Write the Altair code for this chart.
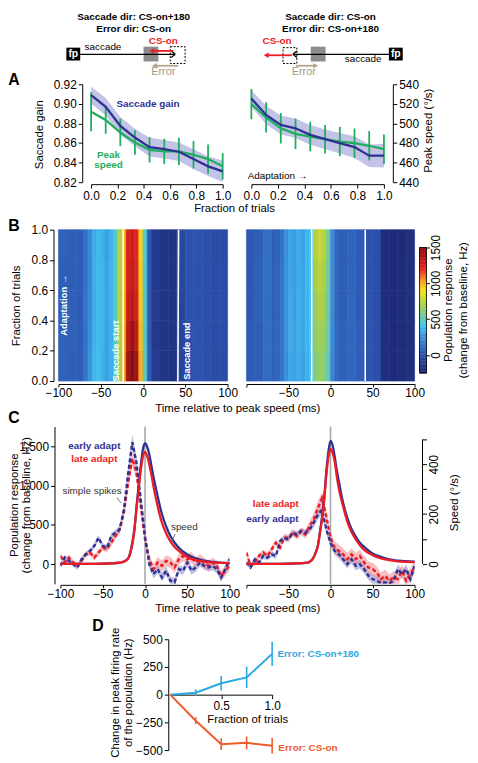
import altair as alt
import numpy as np
import pandas as pd

FONT = "Liberation Sans"
NAVY = "#2e3192"
GREEN = "#1fad5e"
BANDC = "#c2c3e6"
RED = "#ec1c24"
CYAN = "#27aae1"
ORANGE = "#f15a29"
TAN = "#b3a48c"

# ---------------- Panel A data ----------------
A_FRAC = [0.0, 0.111, 0.222, 0.333, 0.444, 0.556, 0.667, 0.778, 0.889, 1.0]
A_L_GAIN = [0.9089, 0.897, 0.8775, 0.8656, 0.8558, 0.8537, 0.8511, 0.8436, 0.8362, 0.8311]
A_L_GAIN_SEM = [0.0085, 0.009, 0.009, 0.009, 0.0095, 0.0095, 0.0095, 0.010, 0.010, 0.011]
A_L_SPEED = [511.9, 503.5, 490.7, 480.5, 473.1, 471.4, 471.4, 468.0, 463.6, 456.2]
A_L_SPEED_SEM = [20, 14, 14, 12.5, 13, 13, 14, 14, 15, 13.5]
A_R_GAIN = [0.9054, 0.8886, 0.8785, 0.8750, 0.8683, 0.8639, 0.8598, 0.8558, 0.8471, 0.8471]
A_R_GAIN_SEM = [0.0085, 0.0095, 0.0095, 0.010, 0.010, 0.010, 0.0105, 0.011, 0.0115, 0.012]
A_R_SPEED = [519.7, 506.2, 495.0, 489.3, 486.6, 483.9, 481.5, 479.8, 477.2, 473.7]
A_R_SPEED_SEM = [15.5, 15.5, 15.5, 15.5, 15, 14.5, 15, 15, 15, 15]
A_GAIN_TICKS = [0.82, 0.84, 0.86, 0.88, 0.90, 0.92]
A_SPEED_TICKS = [440, 460, 480, 500, 520, 540]
A_X_TICKS = [0.0, 0.2, 0.4, 0.6, 0.8, 1.0]

# ---------------- Panel B data ----------------
HM_EDGES = [-100, -90, -80, -70, -65, -60, -55, -50, -45, -40, -35, -30, -25, -20,
            -15, -10, -5, 0, 5, 10, 20, 30, 40, 50, 60, 70, 80, 90, 100]
HM_FRAC = [0.0, 0.2, 0.4, 0.6, 0.8, 1.0]
HM_LEFT = [
    [70, 60, 60, 150, 260, 360, 390, 350, 300, 340, 460, 700, 1020, 1420, 1560, 1420, 1000, 500, 60, -120, -150, -170, -70, 0, 20, 0, -20, -20],
    [70, 70, 60, 140, 240, 350, 380, 360, 300, 350, 470, 710, 1000, 1340, 1450, 1330, 970, 490, 50, -130, -150, -160, -60, 10, 20, 0, -20, -10],
    [60, 70, 50, 150, 230, 340, 380, 360, 310, 350, 480, 720, 990, 1280, 1350, 1260, 950, 480, 40, -120, -150, -160, -60, 10, 10, 0, -10, -10],
    [60, 60, 60, 140, 220, 340, 370, 360, 310, 360, 480, 730, 980, 1250, 1310, 1230, 940, 470, 40, -130, -150, -160, -50, 10, 10, 0, -20, -10],
    [70, 60, 60, 140, 220, 330, 370, 350, 300, 350, 470, 720, 980, 1240, 1290, 1210, 930, 470, 30, -130, -150, -160, -50, 10, 20, 0, -20, -20],
]
HM_RIGHT = [
    [50, 60, 110, 70, 90, 150, 250, 320, 300, 340, 300, 350, 390, 610, 650, 630, 520, 220, 100, 70, 90, 60, 20, 0, -190, -210, -200, -190],
    [50, 60, 120, 70, 90, 150, 260, 330, 300, 350, 310, 360, 400, 640, 680, 660, 540, 230, 100, 70, 90, 60, 20, 0, -190, -210, -200, -190],
    [40, 70, 120, 60, 80, 150, 260, 330, 290, 350, 310, 360, 400, 660, 710, 690, 550, 230, 90, 60, 90, 50, 20, 0, -200, -210, -200, -180],
    [40, 70, 130, 60, 80, 150, 260, 320, 290, 340, 310, 370, 410, 690, 740, 710, 560, 240, 90, 60, 80, 50, 10, 0, -200, -210, -200, -180],
    [40, 60, 130, 60, 80, 140, 250, 320, 290, 340, 300, 370, 410, 720, 780, 740, 570, 240, 90, 60, 80, 50, 10, 0, -200, -220, -210, -190],
]
HM_LEFT_LINES = {"x0": [-23.5, 41.2], "x1": [-23.5, 42.0]}
HM_RIGHT_LINES = {"x0": [-22.4, 41.3], "x1": [-22.4, 41.3]}
HM_LEFT_ANN = {"t": [-93.8, -32.2, 51.7], "f": [0.50, 0.198, 0.198],
               "s": ["Adaptation \u2192", "Saccade start", "Saccade end"]}
CMAP_STOPS = [-254, 0, 250, 400, 550, 700, 900, 1050, 1200, 1500]
CMAP_COLORS = ["#1c2470", "#2b4fab", "#3a8fdd", "#3fc3f0", "#6ec9a0",
               "#a9d047", "#f4e31e", "#f7941d", "#e52520", "#8a0c0e"]
CB_TICKS = [0, 500, 1000, 1500]

# ---------------- Panel C data ----------------
C_T = list(range(-100, 105, 5))
C_L_EARLY = [-21, 84, 42, 0, -42, 63, 126, 168, 231, 336, 231, 210, 357, 399, 441, 693, 1150, 1550, 1282, 819,
             357, 0, -126, -63, -168, -84, -210, -231, -63, -84, 21, -84, -42, 21, -21, -42, -21, -63, -168, -63, 63]
C_L_LATE = [105, 21, 84, 21, -21, 42, 126, 147, 84, 147, 210, 189, 273, 357, 441, 651, 1029, 1345, 1155, 735,
            315, 63, -63, 21, -21, 42, 21, -42, 63, 105, 63, 84, 21, 63, 21, -21, 21, -21, -147, -84, -21]
C_R_EARLY = [21, -42, 63, 21, 105, 84, 126, 105, 294, 336, 315, 399, 378, 420, 399, 441, 525, 630, 693, 441,
             273, 168, 126, 63, 0, 63, -21, 0, -63, -147, -189, -210, -240, -231, -245, -210, -63, -126, -63, -189, -21]
C_R_LATE = [147, -21, 21, 105, 147, 105, 189, 273, 210, 336, 336, 399, 357, 420, 378, 483, 567, 714, 840, 609,
            336, 210, 168, 126, 63, 126, 63, 105, 21, -42, -63, -105, -189, -147, -210, -168, -189, -84, -210, -126, -42]
C_L_EARLY_SEM = [30, 30, 30, 30, 30, 30, 30, 35, 35, 35, 35, 35, 40, 40, 45, 60, 80, 100, 80, 60, 50,
                 50, 55, 55, 55, 55, 55, 55, 50, 50, 50, 50, 50, 50, 50, 50, 55, 55, 55, 55, 55]
C_L_LATE_SEM = [35, 35, 35, 35, 35, 35, 35, 35, 35, 40, 40, 40, 40, 45, 50, 65, 80, 90, 80, 65, 60,
                60, 65, 70, 70, 70, 70, 70, 70, 70, 70, 70, 65, 65, 65, 65, 65, 65, 65, 65, 65]
C_R_EARLY_SEM = [30, 30, 30, 30, 35, 35, 35, 35, 35, 35, 40, 40, 40, 40, 45, 50, 55, 60, 60, 55, 55,
                 55, 55, 55, 55, 55, 55, 55, 55, 55, 60, 60, 60, 60, 60, 60, 60, 60, 60, 60, 60]
C_R_LATE_SEM = [35, 35, 35, 35, 40, 40, 40, 40, 40, 40, 45, 45, 45, 45, 55, 65, 80, 90, 80, 70, 70,
                75, 80, 80, 80, 80, 80, 80, 80, 80, 80, 80, 80, 80, 80, 80, 80, 80, 80, 80, 80]
SPD_T = [-100, -60, -40, -30, -25, -20, -17.5, -15, -12.5, -10, -7.5, -5, -2.5, 0, 2.5, 5, 7.5, 10,
         12.5, 15, 20, 25, 30, 35, 40, 50, 60, 70, 80, 100]
C_L_SPD_EARLY = [0, 0, 2, 5, 10, 22, 45, 85, 140, 230, 315, 395, 460, 484, 470, 440, 395, 350, 310, 270,
                 200, 150, 112, 85, 65, 38, 22, 13, 8, 3]
C_L_SPD_LATE = [0, 0, 2, 5, 9, 20, 42, 80, 135, 225, 300, 375, 430, 449, 432, 400, 358, 310, 268, 230,
                165, 122, 90, 68, 52, 28, 16, 9, 6, 3]
C_R_SPD_EARLY = [0, 0, 2, 4, 8, 27, 47, 75, 130, 190, 265, 370, 450, 493, 475, 430, 375, 330, 285, 245,
                 185, 140, 110, 85, 68, 42, 28, 18, 13, 9]
C_R_SPD_LATE = [0, 0, 2, 4, 8, 26, 46, 72, 125, 182, 255, 355, 430, 460, 445, 410, 350, 300, 262, 230,
                170, 128, 98, 75, 56, 35, 22, 15, 10, 7]
C_X_TICKS = [-100, -50, 0, 50, 100]

# ---------------- Panel D data ----------------
D_FRAC = [0.0, 0.25, 0.5, 0.75, 1.0]
D_CS180 = [0, 18, 103, 156, 368]
D_CS180_SEM = [0, 30, 65, 97, 110]
D_CSON = [0, -235, -447, -435, -462]
D_CSON_SEM = [0, 30, 53, 58, 70]

# ---------------- Schematic (illustration) ----------------
SCH_TITLES = {"x": [133, 133, 332, 332], "y": [9, 21, 9, 21],
              "s": ["Saccade dir: CS-on+180", "Error dir: CS-on", "Saccade dir: CS-on", "Error dir: CS-on+180"]}
SCH_FILL = {"x0": [143, 312, 65, 391], "x1": [158, 327, 79, 405], "y0": [39, 39, 40, 40], "y1": [54, 54, 53, 53],
            "c": ["#8c8c8c", "#8c8c8c", "black", "black"]}
SCH_DASH = {"x0": [170, 284], "x1": [185, 298], "y0": [39, 40], "y1": [56, 56]}
SCH_SEGS = {
    "x0": [79, 171, 171, 391, 298, 298, 173, 293, 178, 297],
    "y0": [46.7, 43.5, 49.9, 46.7, 43.5, 49.9, 43.3, 47.7, 58.3, 58.3],
    "x1": [175, 175, 175, 294, 294, 294, 153, 269, 155, 315],
    "y1": [46.7, 46.7, 46.7, 46.7, 46.7, 46.7, 43.3, 47.7, 58.3, 58.3],
    "c": ["black"] * 6 + [RED, RED, TAN, TAN],
    "w": [1.3] * 6 + [1.8, 1.8, 1.8, 1.8],
}
SCH_HEADS = {"x": [151.5, 267, 154, 317], "y": [43.3, 47.7, 58.3, 58.3],
             "sh": ["triangle-left", "triangle-left", "triangle-left", "triangle-right"],
             "c": [RED, RED, TAN, TAN]}
SCH_CSON = {"x": [163, 278], "y": [33, 33], "s": ["CS-on", "CS-on"]}
SCH_FP = {"x": [72, 398], "y": [46.5, 46.5], "s": ["fp", "fp"]}
SCH_SACC = {"x": [102, 365], "y": [39, 52], "s": ["saccade", "saccade"]}
SCH_ERR = {"x": [163, 305], "y": [65, 65], "s": ["Error", "Error"]}

ONE = pd.DataFrame({"k": [0]})


def txt(x, y, s, size=10, color="black", bold=False, angle=None, align="center", baseline="middle"):
    props = dict(font=FONT, fontSize=size, color=color, align=align, baseline=baseline)
    if bold:
        props["fontWeight"] = "bold"
    if angle is not None:
        props["angle"] = angle
    return alt.Chart(ONE).mark_text(**props).encode(x=alt.value(x), y=alt.value(y), text=alt.value(s))


def seg(x1, y1, x2, y2, color="black", width=1.0):
    return alt.Chart(ONE).mark_rule(color=color, strokeWidth=width).encode(
        x=alt.value(x1), y=alt.value(y1), x2=alt.value(x2), y2=alt.value(y2))


def spacer(w, h):
    return alt.Chart(ONE).mark_rect(opacity=0).encode(
        x=alt.value(0), x2=alt.value(w), y=alt.value(0), y2=alt.value(h)).properties(width=w, height=h)


# ---------------- Schematic chart ----------------
sx = alt.Scale(domain=[6, 468], nice=False, zero=False)
sy = alt.Scale(domain=[4, 77], nice=False, zero=False, reverse=True)


def SX(f):
    return alt.X(f, type="quantitative", scale=sx, axis=None)


def SY(f):
    return alt.Y(f, type="quantitative", scale=sy, axis=None)


def sch_text(d, color, size, bold):
    props = dict(font=FONT, fontSize=size, color=color, align="center", baseline="middle")
    if bold:
        props["fontWeight"] = "bold"
    return alt.Chart(pd.DataFrame(d)).mark_text(**props).encode(x=SX("x"), y=SY("y"), text="s:N")


schem = alt.layer(
    alt.Chart(pd.DataFrame(SCH_FILL)).mark_rect().encode(
        x=SX("x0"), x2="x1", y=SY("y0"), y2="y1", color=alt.Color("c:N", scale=None)),
    alt.Chart(pd.DataFrame(SCH_DASH)).mark_rect(filled=False, stroke="black", strokeWidth=1,
                                                strokeDash=[2, 1.5]).encode(
        x=SX("x0"), x2="x1", y=SY("y0"), y2="y1"),
    alt.Chart(pd.DataFrame(SCH_SEGS)).mark_rule().encode(
        x=SX("x0"), x2="x1", y=SY("y0"), y2="y1", color=alt.Color("c:N", scale=None),
        strokeWidth=alt.StrokeWidth("w:Q", scale=None)),
    alt.Chart(pd.DataFrame(SCH_HEADS)).mark_point(filled=True, opacity=1, size=32).encode(
        x=SX("x"), y=SY("y"), shape=alt.Shape("sh:N", scale=None), color=alt.Color("c:N", scale=None)),
    sch_text(SCH_TITLES, "black", 10, True),
    sch_text(SCH_CSON, RED, 10, True),
    sch_text(SCH_FP, "white", 10.5, True),
    sch_text(SCH_SACC, "black", 10, False),
    sch_text(SCH_ERR, "#a89a86", 11, False),
).properties(width=462, height=73)


# ---------------- Panel A ----------------
def panelA(gain, gsem, spd, ssem, left):
    df = pd.DataFrame({"f": A_FRAC, "g": gain, "s": spd})
    df["glo"] = df["g"] - np.array(gsem)
    df["ghi"] = df["g"] + np.array(gsem)
    df["slo"] = df["s"] - np.array(ssem)
    df["shi"] = df["s"] + np.array(ssem)
    xa = alt.Axis(values=A_X_TICKS, format=".1f", title=None, offset=2, orient="bottom")
    xs = alt.Scale(domain=[0, 1], nice=False, zero=False)
    gs = alt.Scale(domain=[0.82, 0.92], nice=False, zero=False)
    ss = alt.Scale(domain=[440, 540], nice=False, zero=False)
    gax = alt.Axis(values=A_GAIN_TICKS, format=".2f", title=None, offset=9, orient="left") if left else None
    sax = None if left else alt.Axis(values=A_SPEED_TICKS, title=None, offset=9, orient="right")
    X = alt.X("f:Q", scale=xs, axis=xa)
    base = alt.Chart(df)
    layers = [
        base.mark_area(color=BANDC).encode(x=X, y=alt.Y("glo:Q", scale=gs, axis=gax), y2="ghi"),
        base.mark_rule(color=GREEN, strokeWidth=1.8).encode(x=X, y=alt.Y("slo:Q", scale=ss, axis=sax), y2="shi"),
        base.mark_line(color=GREEN, strokeWidth=2.3).encode(x=X, y=alt.Y("s:Q", scale=ss, axis=None)),
        base.mark_line(color=NAVY, strokeWidth=2.3).encode(x=X, y=alt.Y("g:Q", scale=gs, axis=None)),
    ]
    if left:
        layers += [
            txt(-78, -4.5, "A", 16, bold=True),
            txt(-52, 51, "Saccade gain", 11.5, angle=270),
            txt(57.5, 19.7, "Saccade gain", 10, NAVY, bold=True),
            txt(17.5, 71.5, "Peak", 10, GREEN, bold=True),
            txt(17.5, 81.7, "speed", 10, GREEN, bold=True),
            txt(145, 125.7, "Fraction of trials", 11.5),
        ]
    else:
        layers += [
            txt(-3.7, 92.3, "Adaptation \u2192", 10, align="left"),
            txt(179.7, 47, "Peak speed (\u00b0/s)", 11.5, angle=270),
        ]
    return alt.layer(*layers).resolve_scale(y="independent").properties(width=133 if left else 134, height=99)


# ---------------- Panel B ----------------
cscale = alt.Scale(domain=CMAP_STOPS, range=CMAP_COLORS, interpolate="rgb", clamp=True)


def hm_df(rows):
    recs = []
    for r, vals in enumerate(rows):
        for i, v in enumerate(vals):
            recs.append(dict(t0=HM_EDGES[i], t1=HM_EDGES[i + 1], f0=HM_FRAC[r], f1=HM_FRAC[r + 1], v=v))
    return pd.DataFrame(recs)


def heatmap(rows, lines, ann, left):
    xs = alt.Scale(domain=[-100, 100], nice=False, zero=False)
    ys = alt.Scale(domain=[0, 1], nice=False, zero=False)
    if left:
        xax = alt.Axis(values=C_X_TICKS, title=None, offset=3, orient="bottom", tickSize=3, labelPadding=1)
        yax = alt.Axis(values=[0, 0.2, 0.4, 0.6, 0.8, 1.0], format=".1f", title=None, offset=5, orient="left")
    else:
        xax = alt.Axis(values=C_X_TICKS, title=None, offset=3, orient="bottom", tickSize=3, labelPadding=1,
                       labelExpr="datum.value == -100 ? '' : datum.label")
        yax = None
    ld = pd.DataFrame(lines)
    ld["y0"] = 0.0
    ld["y1"] = 1.0
    layers = [
        alt.Chart(hm_df(rows)).mark_rect(strokeWidth=0.6).encode(
            x=alt.X("t0:Q", scale=xs, axis=xax), x2="t1",
            y=alt.Y("f0:Q", scale=ys, axis=yax), y2="f1",
            color=alt.Color("v:Q", scale=cscale, legend=None),
            stroke=alt.Stroke("v:Q", scale=cscale, legend=None)),
        alt.Chart(ld).mark_rule(color="white", strokeWidth=1.6).encode(
            x=alt.X("x0:Q", scale=xs, axis=xax), x2="x1",
            y=alt.Y("y0:Q", scale=ys, axis=yax), y2="y1"),
    ]
    if ann is not None:
        layers.append(alt.Chart(pd.DataFrame(ann)).mark_text(
            font=FONT, fontSize=9.5, fontWeight="bold", color="white", angle=270,
            align="center", baseline="middle").encode(
            x=alt.X("t:Q", scale=xs, axis=xax), y=alt.Y("f:Q", scale=ys, axis=yax), text="s:N"))
    if left:
        layers += [
            txt(-45, -4, "B", 16, bold=True),
            txt(-42, 77, "Fraction of trials", 11.5, angle=270),
            txt(181.3, 181, "Time relative to peak speed (ms)", 11.5),
        ]
    return alt.layer(*layers).properties(width=171 if left else 170, height=153)


# colour bar: a 153-px tall cell, bar occupies px 18..145
CB_PX_TOP, CB_PX_BOT, CB_H = 18, 145, 153
_ppu = (CB_PX_BOT - CB_PX_TOP) / (CMAP_STOPS[-1] - CMAP_STOPS[0])
CB_DOM = [CMAP_STOPS[0] - (CB_H - CB_PX_BOT) / _ppu, CMAP_STOPS[-1] + CB_PX_TOP / _ppu]
CB_EDGES = np.linspace(CMAP_STOPS[0], CMAP_STOPS[-1], 90)
cbdf = pd.DataFrame({"lo": CB_EDGES[:-1], "hi": CB_EDGES[1:]})
cbdf["mid"] = (cbdf["lo"] + cbdf["hi"]) / 2
cb_y = alt.Scale(domain=CB_DOM, nice=False, zero=False)
cb_ax = alt.Axis(orient="right", values=CB_TICKS, format="d", labelAngle=270, labelAlign="center",
                 labelBaseline="top", tickSize=3, domain=False, title=None, labelPadding=1)
colorbar = alt.layer(
    alt.Chart(cbdf).mark_rect(strokeWidth=0.5).encode(
        x=alt.value(0), x2=alt.value(7), y=alt.Y("lo:Q", scale=cb_y, axis=cb_ax), y2="hi",
        color=alt.Color("mid:Q", scale=cscale, legend=None),
        stroke=alt.Stroke("mid:Q", scale=cscale, legend=None)),
    alt.Chart(ONE).mark_rect(filled=False, stroke="black", strokeWidth=0.8).encode(
        x=alt.value(0), x2=alt.value(7), y=alt.value(CB_PX_TOP), y2=alt.value(CB_PX_BOT)),
    txt(30, 81.5, "Population response", 11.5, angle=270),
    txt(45, 81.5, "(change from baseline, Hz)", 11.5, angle=270),
).properties(width=7, height=CB_H)


# ---------------- Panel C ----------------
def panelC(early, late, esem, lsem, spd_e, spd_l, left):
    df = pd.DataFrame({"t": C_T, "e": early, "l": late})
    df["elo"] = df["e"] - np.array(esem)
    df["ehi"] = df["e"] + np.array(esem)
    df["llo"] = df["l"] - np.array(lsem)
    df["lhi"] = df["l"] + np.array(lsem)
    sd = pd.DataFrame({"t": SPD_T, "e": spd_e, "l": spd_l})
    xs = alt.Scale(domain=[-100, 100], nice=False, zero=False)
    if left:
        xax = alt.Axis(values=C_X_TICKS, title=None, offset=1, orient="bottom", tickSize=3, labelPadding=1)
    else:
        xax = alt.Axis(values=C_X_TICKS, title=None, offset=1, orient="bottom", tickSize=3, labelPadding=1,
                       labelExpr="datum.value == -100 ? '' : datum.label")
    hs = alt.Scale(domain=[-250, 1750], nice=False, zero=False)
    ss = alt.Scale(domain=[-80, 551], nice=False, zero=False)
    hax = alt.Axis(values=[0, 500, 1000, 1500], title=None, offset=6, orient="left") if left else None
    sax = None if left else alt.Axis(
        orient="right", values=[0, 100, 200, 300, 400, 500],
        labelExpr="datum.value % 200 == 0 ? datum.label : ''", labelAngle=270,
        labelAlign="center", labelBaseline="top", domain=False, offset=8, title=None, labelPadding=2)
    X = alt.X("t:Q", scale=xs, axis=xax)
    base = alt.Chart(df)
    sbase = alt.Chart(sd)
    layers = [
        alt.Chart(pd.DataFrame({"t": [0]})).mark_rule(color="#a8a8a8", strokeWidth=1.6).encode(
            x=X, y=alt.value(0), y2=alt.value(159)),
        base.mark_area(color="#6d70c0", opacity=0.45, clip=True).encode(
            x=X, y=alt.Y("elo:Q", scale=hs, axis=hax), y2="ehi"),
        base.mark_area(color="#f07f86", opacity=0.5, clip=True).encode(
            x=X, y=alt.Y("llo:Q", scale=hs, axis=None), y2="lhi"),
        base.mark_line(color=RED, strokeDash=[4, 2.5], strokeWidth=2.4, clip=True).encode(
            x=X, y=alt.Y("l:Q", scale=hs, axis=None)),
        base.mark_line(color=NAVY, strokeDash=[4, 2.5], strokeWidth=2.4, clip=True).encode(
            x=X, y=alt.Y("e:Q", scale=hs, axis=None)),
        sbase.mark_line(color=NAVY, strokeWidth=2.3, interpolate="monotone").encode(
            x=X, y=alt.Y("e:Q", scale=ss, axis=sax)),
        sbase.mark_line(color=RED, strokeWidth=2.3, interpolate="monotone").encode(
            x=X, y=alt.Y("l:Q", scale=ss, axis=None)),
    ]
    if left:
        layers += [
            txt(-47, -9, "C", 16, bold=True),
            txt(-46.3, 79.5, "Population response", 11.5, angle=270),
            txt(-33.7, 79.5, "(change from baseline, Hz)", 11.5, angle=270),
            txt(34.3, 19.7, "early adapt", 10, NAVY, bold=True),
            txt(34.3, 33, "late adapt", 10, RED, bold=True),
            txt(32, 64.7, "simple spikes", 10, "#333333"),
            seg(57, 72, 61.5, 77.5, "#555555", 0.8),
            txt(125.3, 101.3, "speed", 10, "#333333"),
            seg(116, 108.7, 112, 117, "#555555", 0.8),
            txt(179.3, 184, "Time relative to peak speed (ms)", 11.5),
        ]
    else:
        layers += [
            alt.Chart(pd.DataFrame({"a": [0], "b": [500]})).mark_rule(color="black", strokeWidth=1).encode(
                x=alt.value(178), y=alt.Y("a:Q", scale=ss, axis=None), y2="b"),
            txt(29.7, 78, "late adapt", 10, RED, bold=True),
            txt(26.3, 93.7, "early adapt", 10, NAVY, bold=True),
            txt(211, 77, "Speed (\u00b0/s)", 11.5, angle=270),
        ]
    return alt.layer(*layers).resolve_scale(y="independent").properties(width=171 if left else 170, height=159)


# ---------------- Panel D ----------------
ddf = pd.DataFrame({"f": D_FRAC, "a": D_CS180, "b": D_CSON})
ddf["alo"] = ddf["a"] - np.array(D_CS180_SEM)
ddf["ahi"] = ddf["a"] + np.array(D_CS180_SEM)
ddf["blo"] = ddf["b"] - np.array(D_CSON_SEM)
ddf["bhi"] = ddf["b"] + np.array(D_CSON_SEM)
dxs = alt.Scale(domain=[0, 1], nice=False, zero=False)
dys = alt.Scale(domain=[-500, 500], nice=False, zero=False)
DX = alt.X("f:Q", scale=dxs, axis=alt.Axis(values=[0.5, 1.0], format=".1f", title=None, offset=-56,
                                            orient="bottom"))
dax = alt.Axis(values=[-500, -250, 0, 250, 500], title=None, offset=2, orient="left")
dbase = alt.Chart(ddf)
panelD = alt.layer(
    dbase.mark_line(color=CYAN, strokeWidth=2).encode(x=DX, y=alt.Y("a:Q", scale=dys, axis=dax)),
    dbase.mark_rule(color=CYAN, strokeWidth=1.6).encode(x=DX, y=alt.Y("alo:Q", scale=dys, axis=dax), y2="ahi"),
    dbase.mark_line(color=ORANGE, strokeWidth=2).encode(x=DX, y=alt.Y("b:Q", scale=dys, axis=dax)),
    dbase.mark_rule(color=ORANGE, strokeWidth=1.6).encode(x=DX, y=alt.Y("blo:Q", scale=dys, axis=dax), y2="bhi"),
    txt(-73, -13, "D", 16, bold=True),
    txt(-55, 54, "Change in peak firing rate", 11.5, angle=270),
    txt(-42, 54, "of the population (Hz)", 11.5, angle=270),
    txt(108.3, 14.7, "Error: CS-on+180", 10, CYAN, bold=True, align="left"),
    txt(109.3, 109.7, "Error: CS-on", 10, ORANGE, bold=True, align="left"),
    txt(78.3, 81.3, "Fraction of trials", 11.5),
).properties(width=103, height=112)

# ---------------- Layout ----------------
# In a flush vconcat a nested hconcat row takes no height of its own, so each row is
# followed by a spacer whose height is the row's plot height plus the gap below it.
HA, HB, HC, HD = 99, 153, 159, 112
rowA = alt.hconcat(spacer(84, HA), panelA(A_L_GAIN, A_L_GAIN_SEM, A_L_SPEED, A_L_SPEED_SEM, True),
                   spacer(29, HA), panelA(A_R_GAIN, A_R_GAIN_SEM, A_R_SPEED, A_R_SPEED_SEM, False),
                   spacing=0, bounds="flush")
rowB = alt.hconcat(spacer(51, HB), heatmap(HM_LEFT, HM_LEFT_LINES, HM_LEFT_ANN, True),
                   spacer(19, HB), heatmap(HM_RIGHT, HM_RIGHT_LINES, None, False),
                   spacer(5, HB), colorbar, spacing=0, bounds="flush")
rowC = alt.hconcat(spacer(53, HC),
                   panelC(C_L_EARLY, C_L_LATE, C_L_EARLY_SEM, C_L_LATE_SEM, C_L_SPD_EARLY, C_L_SPD_LATE, True),
                   spacer(17, HC),
                   panelC(C_R_EARLY, C_R_LATE, C_R_EARLY_SEM, C_R_LATE_SEM, C_R_SPD_EARLY, C_R_SPD_LATE, False),
                   spacing=0, bounds="flush")
rowD = alt.hconcat(spacer(164, HD), panelD, spacing=0, bounds="flush")

chart = alt.vconcat(schem, rowA, spacer(1, HA + 48), rowB, spacer(1, HB + 46), rowC, spacer(1, HC + 56), rowD,
                    spacing=0, bounds="flush").properties(padding=0).configure(
    font=FONT).configure_view(stroke=None).configure_axis(
    labelFont=FONT, labelFontSize=12, labelColor="black", domainColor="black", tickColor="black",
    domainWidth=1, tickWidth=1, tickSize=4, labelPadding=2, grid=False, labelFlush=False)

chart.save("out.html", embed_options={"renderer": "svg", "actions": False})
